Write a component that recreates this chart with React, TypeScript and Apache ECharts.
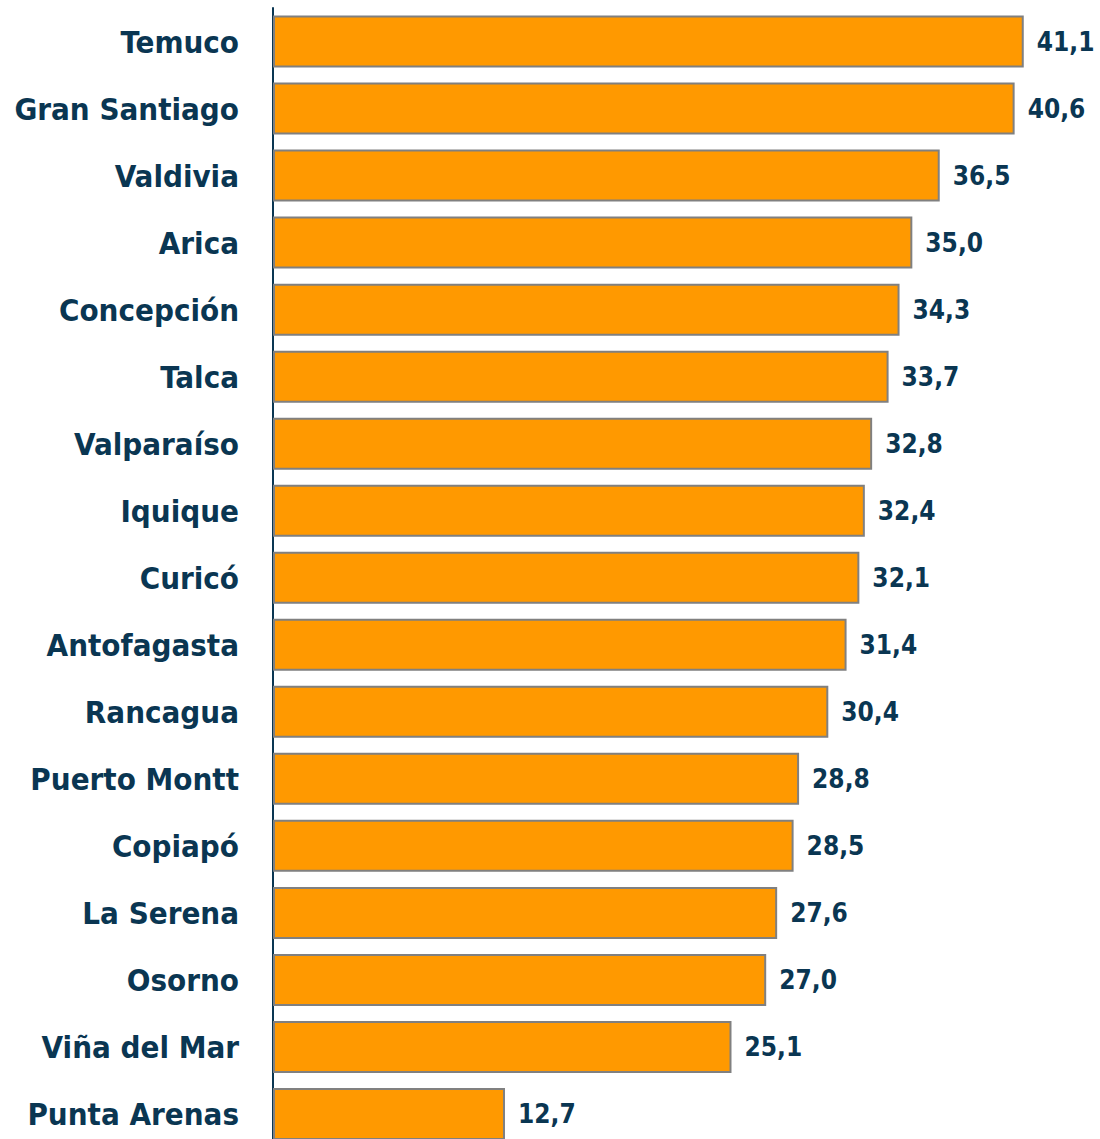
import React, { useEffect, useRef } from "react";
import * as echarts from "echarts";

const cities = [
  "Temuco",
  "Gran Santiago",
  "Valdivia",
  "Arica",
  "Concepción",
  "Talca",
  "Valparaíso",
  "Iquique",
  "Curicó",
  "Antofagasta",
  "Rancagua",
  "Puerto Montt",
  "Copiapó",
  "La Serena",
  "Osorno",
  "Viña del Mar",
  "Punta Arenas",
];

const values = [41.1, 40.6, 36.5, 35.0, 34.3, 33.7, 32.8, 32.4, 32.1, 31.4, 30.4, 28.8, 28.5, 27.6, 27.0, 25.1, 12.7];

const TEXT = "#0a3652";
const FONT = "'DejaVu Sans Condensed', 'DejaVu Sans', sans-serif";

export default function App() {
  const ref = useRef<HTMLDivElement>(null);
  useEffect(() => {
    document.body.style.margin = "0";
    document.body.style.overflow = "hidden";
    const chart = echarts.init(ref.current!, undefined, { renderer: "svg" });
    chart.setOption({
      animation: false,
      backgroundColor: "#ffffff",
      grid: {
        left: 273,
        top: 8,
        width: 822,
        height: 1139.5,
        containLabel: false,
        outerBoundsMode: "none",
      },
      xAxis: { type: "value", min: 0, max: 45, show: false },
      yAxis: {
        type: "category",
        data: cities,
        inverse: true,
        axisLine: { show: true, lineStyle: { color: TEXT, width: 2 } },
        axisTick: { show: false },
        splitLine: { show: false },
        axisLabel: {
          margin: 34,
          color: TEXT,
          fontFamily: FONT,
          fontWeight: "bold",
          fontSize: 31,
        },
      },
      series: [
        {
          type: "bar",
          data: values,
          barWidth: 52,
          itemStyle: { color: "#ff9900", borderColor: "#808080", borderWidth: 2 },
          label: {
            show: true,
            position: "right",
            distance: 13,
            color: TEXT,
            fontFamily: FONT,
            fontWeight: "bold",
            fontSize: 26,
            formatter: (p: any) => p.value.toFixed(1).replace(".", ","),
          },
        },
      ],
    });
    return () => chart.dispose();
  }, []);
  return <div ref={ref} style={{ position: "fixed", left: 0, top: 0, width: 1100, height: 1139 }} />;
}
